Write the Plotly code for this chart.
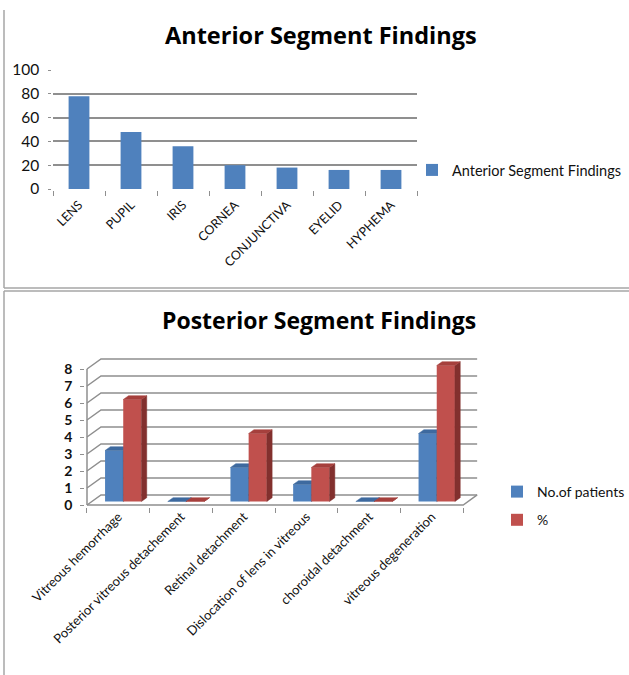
import plotly.graph_objects as go

# ---------------- data ----------------
ant_categories = ["LENS", "PUPIL", "IRIS", "CORNEA", "CONJUNCTIVA", "EYELID", "HYPHEMA"]
ant_values = [78, 48, 36, 20, 18, 16, 16]
ant_yticks = [0, 20, 40, 60, 80, 100]

post_categories = ["Vitreous hemorrhage", "Posterior vitreous detachement", "Retinal detachment",
                   "Dislocation of lens in vitreous", "choroidal detachment", "vitreous degeneration"]
post_patients = [3, 0, 2, 1, 0, 4]
post_percent = [6, 0, 4, 2, 0, 8]
post_yticks = [0, 1, 2, 3, 4, 5, 6, 7, 8]

# ---------------- style ----------------
W, H = 629, 675
FONT = "Lato"
TITLE_FONT = "Open Sans"
BLUE, BLUE_TOP, BLUE_SIDE = "#4F81BD", "#3E6A9F", "#2E5482"
RED, RED_TOP, RED_SIDE = "#C0504D", "#A6403D", "#82302E"
GRID = "#8f8f8f"
TXT = "#111111"

def px(x):
    return x / W

def py(y):
    return 1 - y / H

# pseudo-3D depth (in data units of bottom chart)
DX, DY = 0.223, 0.59      # back-wall offset
F0, FD = 0.35, 0.38       # bar depth position / bar depth (fractions of wall depth)
BW = 0.29                 # bar width

fig = go.Figure()

# ---------------- top chart ----------------
fig.add_trace(go.Bar(
    x=ant_categories, y=ant_values, name="Anterior Segment Findings",
    marker=dict(color=BLUE, line=dict(width=0)),
    xaxis="x", yaxis="y", legend="legend",
))

# ---------------- bottom chart ----------------
n = len(post_categories)
xmax = n + DX

# back-wall gridlines + floor
gx, gy = [], []
for v in post_yticks:
    gx += [0, DX, xmax, None]
    gy += [v, v + DY, v + DY, None]
gx += [0, n, xmax, None, 0, 0]
gy += [0, 0, DY, None, 0, post_yticks[-1]]
fig.add_trace(go.Scatter(x=gx, y=gy, mode="lines", line=dict(color=GRID, width=1.5),
                         hoverinfo="skip", showlegend=False, xaxis="x2", yaxis="y2", zorder=0))

def faces(values, left_shift, z, top_col, side_col, front_col, name):
    base = F0 * DY
    centers = [i + 0.5 + F0 * DX for i in range(n)]
    fig.add_trace(go.Bar(
        x=centers, y=values, base=[base] * n, width=BW, offset=left_shift,
        marker=dict(color=front_col, line=dict(width=0)), name=name,
        xaxis="x2", yaxis="y2", legend="legend2", legendgroup=name, zorder=z,
    ))
    sdx, sdy = FD * DX, FD * DY
    tx, ty, sx, sy = [], [], [], []
    for c, v in zip(centers, values):
        xl, xr = c + left_shift, c + left_shift + BW
        top = base + v
        tx += [xl, xr, xr + sdx, xl + sdx, xl, None]
        ty += [top, top, top + sdy, top + sdy, top, None]
        sx += [xr, xr, xr + sdx, xr + sdx, xr, None]
        sy += [base, top, top + sdy, base + sdy, base, None]
    fig.add_trace(go.Scatter(x=sx, y=sy, mode="lines", fill="toself", fillcolor=side_col,
                             line=dict(width=0.5, color=side_col), hoverinfo="skip",
                             showlegend=False, xaxis="x2", yaxis="y2", zorder=z))
    fig.add_trace(go.Scatter(x=tx, y=ty, mode="lines", fill="toself", fillcolor=top_col,
                             line=dict(width=0.5, color=top_col), hoverinfo="skip",
                             showlegend=False, xaxis="x2", yaxis="y2", zorder=z))

faces(post_patients, -BW, 1, BLUE_TOP, BLUE_SIDE, BLUE, "No.of patients")
faces(post_percent, 0, 2, RED_TOP, RED_SIDE, RED, "%")

# invisible trace carrying the category-label axis
fig.add_trace(go.Scatter(x=[i + 0.5 for i in range(n)], y=[0] * n, mode="markers",
                         marker=dict(opacity=0), hoverinfo="skip", showlegend=False,
                         xaxis="x3", yaxis="y2"))

# ---------------- layout ----------------
xs = 62.7   # px per category (bottom)
ys = 17.0   # px per unit (bottom)
x_lo = -0.03
x_hi = xmax + 0.01
y_lo, y_hi = -0.1, 8.8
x0_px = 87
y0_px = 505

fig.update_layout(
    width=W, height=H, margin=dict(l=0, r=0, t=0, b=0, autoexpand=False),
    paper_bgcolor="white", plot_bgcolor="white",
    font=dict(family=FONT, color=TXT),
    bargap=0.6, showlegend=True,
    xaxis=dict(domain=[px(53), px(417)], anchor="y", type="category", automargin=False,
               tickson="boundaries", ticks="outside", ticklen=5, tickcolor=GRID,
               showline=True, linecolor=GRID, linewidth=1.5, tickangle=-45,
               tickfont=dict(size=12.5, family=FONT, color=TXT), ticklabelstandoff=2,
               showgrid=False),
    yaxis=dict(domain=[py(189), py(70)], anchor="x", range=[0, 100], tickvals=ant_yticks,
               automargin=False,
               showgrid=True, gridcolor=GRID, gridwidth=1.5, showline=True, linecolor=GRID,
               linewidth=1.5, ticks="outside", ticklen=3, tickcolor=GRID,
               tickfont=dict(size=15.5, family=FONT, color=TXT), ticklabelstandoff=6,
               zeroline=False),
    xaxis2=dict(domain=[px(x0_px + x_lo * xs), px(x0_px + x_hi * xs)], anchor="y2",
                range=[x_lo, x_hi], tickvals=list(range(n + 1)), showticklabels=False,
                automargin=False,
                ticks="outside", ticklen=5, tickcolor=GRID, showgrid=False, zeroline=False,
                showline=False),
    xaxis3=dict(overlaying="x2", anchor="y2", range=[x_lo, x_hi], automargin=False,
                tickvals=[i + 0.5 for i in range(n)], ticktext=post_categories,
                tickangle=-45, ticks="", showgrid=False, zeroline=False, showline=False,
                tickfont=dict(size=13, family=FONT, color=TXT), ticklabelstandoff=-1),
    yaxis2=dict(domain=[py(y0_px - y_lo * ys), py(y0_px - y_hi * ys)], anchor="x2",
                range=[y_lo, y_hi], tickvals=post_yticks, showgrid=False, zeroline=False,
                automargin=False,
                showline=False, ticks="outside", ticklen=4, tickcolor=GRID,
                tickfont=dict(size=14, family=FONT, color=TXT, weight="bold"),
                ticklabelstandoff=5),
    legend=dict(x=px(412), y=py(170), xanchor="left", yanchor="middle",
                font=dict(size=14.5, family=FONT, color=TXT), bgcolor="rgba(0,0,0,0)"),
    legend2=dict(x=px(497), y=py(506), xanchor="left", yanchor="middle",
                 font=dict(size=14, family=FONT, color=TXT), bgcolor="rgba(0,0,0,0)",
                 tracegroupgap=7, traceorder="grouped"),
    annotations=[
        dict(text="Anterior Segment Findings", x=px(321), y=py(35), xref="paper", yref="paper",
             showarrow=False, xanchor="center", yanchor="middle",
             font=dict(size=23.5, family=TITLE_FONT, weight="bold", color="#000")),
        dict(text="Posterior Segment Findings", x=px(319), y=py(320), xref="paper", yref="paper",
             showarrow=False, xanchor="center", yanchor="middle",
             font=dict(size=23, family=TITLE_FONT, weight="bold", color="#000")),
    ],
    shapes=[
        dict(type="line", xref="paper", yref="paper", x0=px(4), x1=px(4), y0=py(10), y1=py(288),
             line=dict(color="#a6a6a6", width=1.5)),
        dict(type="line", xref="paper", yref="paper", x0=px(4), x1=1, y0=py(288), y1=py(288),
             line=dict(color="#a6a6a6", width=1.5)),
        dict(type="line", xref="paper", yref="paper", x0=px(4), x1=1, y0=py(291), y1=py(291),
             line=dict(color="#a6a6a6", width=1.5)),
        dict(type="line", xref="paper", yref="paper", x0=px(4), x1=px(4), y0=py(291), y1=0,
             line=dict(color="#a6a6a6", width=1.5)),
    ],
)

fig.write_html("out.html", config={"displayModeBar": False},
               post_script="document.body.style.margin='0';")
